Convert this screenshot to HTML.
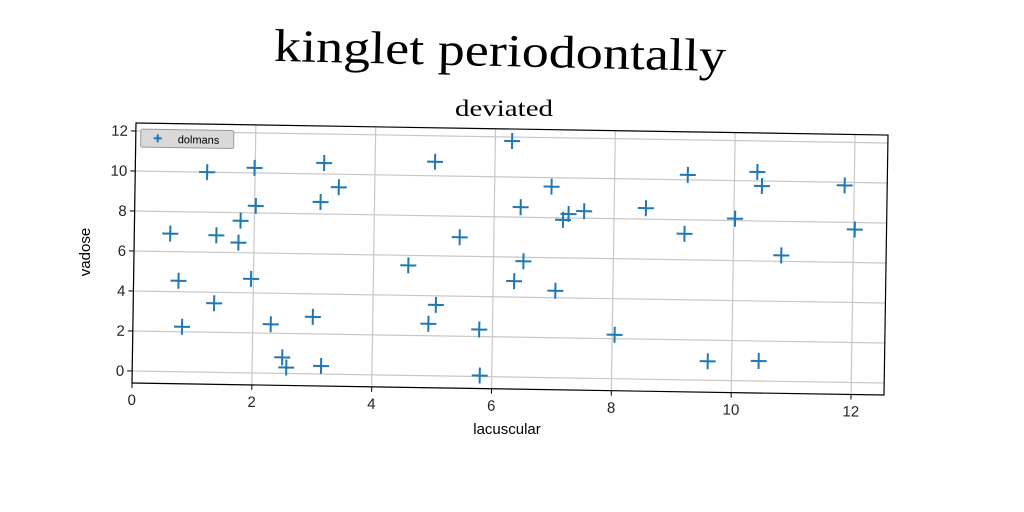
<!DOCTYPE html>
<html><head><meta charset="utf-8"><style>
html,body{margin:0;padding:0;background:#fff;width:1024px;height:512px;overflow:hidden}
svg{position:absolute;left:0;top:0}
</style></head><body>
<svg width="1024" height="512">
<text x="500" y="66" text-anchor="middle" transform="rotate(1.3 500 55)" textLength="452" lengthAdjust="spacingAndGlyphs" font-family="Liberation Serif, serif" font-size="46" fill="#000">kinglet periodontally</text>
<text x="504" y="116" text-anchor="middle" textLength="98" lengthAdjust="spacingAndGlyphs" font-family="Liberation Serif, serif" font-size="23" fill="#000">deviated</text>
<g id="plot" transform="matrix(1,0.016,-0.0154,1,136,123)">
<rect x="0" y="0" width="752" height="260" fill="#fff"/>
<g id="grid"></g>
<g id="marks"></g>
<rect x="0" y="0" width="752" height="260" fill="none" stroke="#000" stroke-width="1.2"/>
<g id="ticks" font-family="Liberation Sans, sans-serif" font-size="15" fill="#222"></g>
<g>
<rect x="5" y="6" width="93" height="18" rx="2" fill="#d9d9d9" stroke="#999"/>
<path d="M18 15h8M22 11v8" stroke="#1f77b4" stroke-width="2"/>
<text x="42" y="19.5" font-family="Liberation Sans, sans-serif" font-size="11" fill="#000">dolmans</text>
</g>
</g>
<text transform="translate(90,252) rotate(-90)" text-anchor="middle" font-family="Liberation Sans, sans-serif" font-size="15" fill="#000">vadose</text>
<text x="507" y="434" text-anchor="middle" font-family="Liberation Sans, sans-serif" font-size="15" fill="#000">lacuscular</text>
</svg>
<script>
const xs=[0.6,0.75,0.82,1.2,1.37,1.35,1.74,1.77,1.96,1.99,2.02,2.3,2.5,2.57,3.0,3.1,3.15,3.15,3.4,4.58,4.93,5.05,5.0,5.43,5.78,5.8,6.28,6.35,6.44,6.5,6.95,7.04,7.15,7.24,7.5,8.04,8.53,9.18,9.22,9.6,10.02,10.38,10.46,10.45,10.8,11.84,12.02];
const ys=[6.9,4.55,2.25,10.0,6.85,3.45,6.5,7.6,4.7,10.25,8.35,2.45,0.8,0.3,2.85,8.6,10.55,0.4,9.35,5.5,2.6,3.55,10.7,6.95,2.35,0.05,11.8,4.8,8.5,5.8,9.55,4.35,7.9,8.2,8.35,2.2,8.55,7.3,10.25,0.95,8.1,10.45,9.75,1.0,6.3,9.85,7.65];
const xTicks=[0,2,4,6,8,10,12];
const yTicks=[0,2,4,6,8,10,12];
const W=752,H=260,XMIN=0,XMAX=12.55,YMIN=-0.6,YMAX=12.4;
const sx=v=>(v-XMIN)/(XMAX-XMIN)*W;
const sy=v=>H-(v-YMIN)/(YMAX-YMIN)*H;
const NS='http://www.w3.org/2000/svg';
function mk(t,a,p){const e=document.createElementNS(NS,t);for(const k in a)e.setAttribute(k,a[k]);p.appendChild(e);return e;}
const grid=document.getElementById('grid'),ticks=document.getElementById('ticks'),marks=document.getElementById('marks');
xTicks.forEach(v=>{const x=sx(v);
const g=mk('line',{x1:x,y1:0,x2:x,y2:H,stroke:'#c8c8c8','stroke-width':1.2},grid);


const t=mk('line',{x1:x,y1:H,x2:x,y2:H+5,stroke:'#000'},ticks);


const l=mk('text',{x:x,y:H+22,'text-anchor':'middle'},ticks);l.textContent=v;

});
yTicks.forEach(v=>{const y=sy(v);
const g=mk('line',{x1:0,y1:y,x2:W,y2:y,stroke:'#c8c8c8','stroke-width':1.2},grid);


const t=mk('line',{x1:-5,y1:y,x2:0,y2:y,stroke:'#000'},ticks);


const l=mk('text',{x:-8,y:y+5,'text-anchor':'end'},ticks);l.textContent=v;

});
xs.forEach((v,i)=>{const x=sx(v),y=sy(ys[i]);
const p=mk('path',{d:`M${x-8} ${y}h16M${x} ${y-8}v16`,stroke:'#1f77b4','stroke-width':2},marks);

});
</script>
</body></html>
